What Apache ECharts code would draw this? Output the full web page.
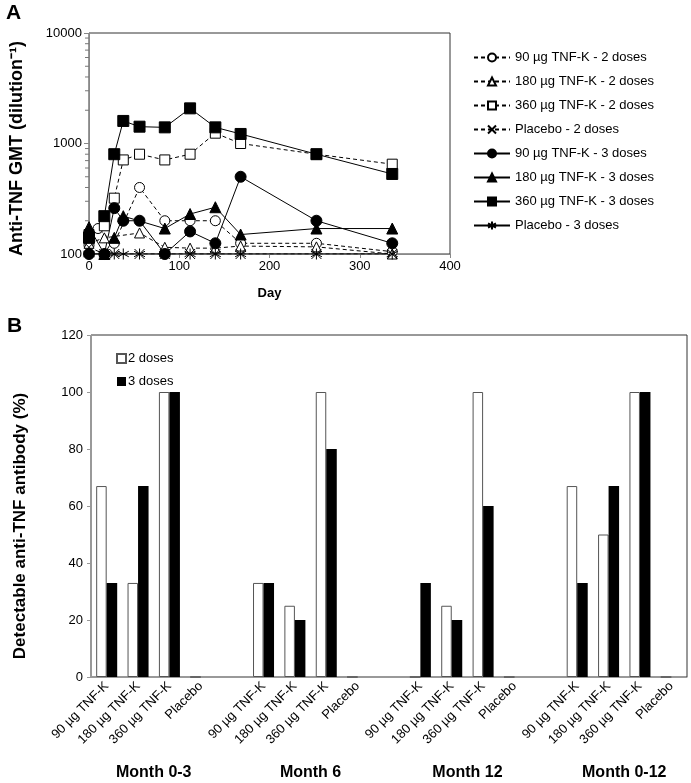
<!DOCTYPE html>
<html>
<head>
<meta charset="utf-8">
<script src="https://cdn.jsdelivr.net/npm/echarts@6/dist/echarts.min.js"></script>
<style>
  html, body { margin: 0; background: #fff; }
  #chart { width: 691px; height: 783px; }
</style>
</head>
<body>
<div id="chart"></div>
<script>
const FONT = '"Liberation Sans", Arial, sans-serif';

// Panel A - anti-TNF GMT by study day (null = no point on that day)
const days = [0, 10, 17, 28, 38, 56, 84, 112, 140, 168, 252, 336];
const gmt90x2 = [120, 170, null, 125, null, 400, 200, 200, 200, 125, 125, 105];
const gmt180x2 = [125, null, 140, null, null, 155, 115, 113, 113, 118, 116, 100];
const gmt360x2 = [150, null, 180, 320, 710, 800, 710, 800, 1240, 1000, 800, 650];
const gmtPlacebo2 = [115, null, 100, 100, null, 100, 100, 100, 100, 100, 100, 100];
const gmt90x3 = [100, null, 100, 260, 200, 200, 100, 160, 125, 500, 200, 125];
const gmt180x3 = [175, null, 100, 140, 220, null, 170, 230, 265, 150, 170, 170];
const gmt360x3 = [140, null, 220, 800, 1600, 1420, 1400, 2080, 1400, 1220, 800, 530];
const gmtPlacebo3 = [100, null, 100, 100, 100, 100, 100, 100, 100, 100, 100, 100];
const logMinorTicks = [200, 300, 400, 500, 600, 700, 800, 900, 2000, 3000, 4000, 5000, 6000, 7000, 8000, 9000];

// Panel B - % with detectable antibody
const groups = ['Month 0-3', 'Month 6', 'Month 12', 'Month 0-12'];
const doseLabels = ['90 µg TNF-K', '180 µg TNF-K', '360 µg TNF-K', 'Placebo'];
const pct2doses = [[67, 33, 100, 0], [33, 25, 100, 0], [0, 25, 100, 0], [67, 50, 100, 0]];
const pct3doses = [[33, 67, 100, 0], [33, 20, 80, 0], [33, 20, 60, 0], [33, 67, 100, 0]];

const SYM = {
  x: 'path://M0,0L10,10M10,0L0,10',
  star: 'path://M5,0L5,10M0.7,2.5L9.3,7.5M0.7,7.5L9.3,2.5'
};

const lineDefs = [
  { name: '90 µg TNF-K - 2 doses', values: gmt90x2, symbol: 'circle', open: true },
  { name: '180 µg TNF-K - 2 doses', values: gmt180x2, symbol: 'triangle', open: true },
  { name: '360 µg TNF-K - 2 doses', values: gmt360x2, symbol: 'rect', open: true },
  { name: 'Placebo - 2 doses', values: gmtPlacebo2, symbol: SYM.x, open: true, stroke: true },
  { name: '90 µg TNF-K - 3 doses', values: gmt90x3, symbol: 'circle' },
  { name: '180 µg TNF-K - 3 doses', values: gmt180x3, symbol: 'triangle' },
  { name: '360 µg TNF-K - 3 doses', values: gmt360x3, symbol: 'rect' },
  { name: 'Placebo - 3 doses', values: gmtPlacebo3, symbol: SYM.star, stroke: true }
];

const lineSeries = lineDefs.map(d => ({
  name: d.name,
  type: 'line',
  xAxisIndex: 0,
  yAxisIndex: 0,
  data: days.map((day, i) => [day, d.values[i]]).filter(p => p[1] != null),
  symbol: d.symbol,
  symbolSize: d.open ? 10 : 11,
  showSymbol: true,
  lineStyle: { color: '#000', width: 1, type: d.open ? [4, 3] : 'solid' },
  itemStyle: d.stroke
    ? { color: 'none', borderColor: '#000', borderWidth: 1 }
    : { color: d.open ? '#fff' : '#000', borderColor: '#000', borderWidth: 1 },
  emphasis: { disabled: true },
  animation: false
}));

// category axis for panel B: blank slot between groups
const barCats = [];
const bar2 = [];
const bar3 = [];
groups.forEach((g, gi) => {
  if (gi > 0) { barCats.push(''); bar2.push('-'); bar3.push('-'); }
  doseLabels.forEach((lab, di) => {
    barCats.push(lab);
    bar2.push(pct2doses[gi][di]);
    bar3.push(pct3doses[gi][di]);
  });
});
const groupCenters = groups.map((g, gi) => gi * (doseLabels.length + 1) + (doseLabels.length - 1) / 2);

const chart = echarts.init(document.getElementById('chart'));
chart.setOption({
  animation: false,
  textStyle: { fontFamily: FONT },
  graphic: [
    { type: 'text', left: 6, top: 3, style: { text: 'A', font: 'bold 21px ' + FONT, fill: '#000' } },
    { type: 'text', left: 7, top: 316, style: { text: 'B', font: 'bold 21px ' + FONT, fill: '#000' } }
  ],
  grid: [
    { left: 87, top: 33, width: 363, height: 221, show: true, borderColor: '#333', borderWidth: 1 },
    { left: 91, top: 335, width: 596, height: 342, show: true, borderColor: '#333', borderWidth: 1 }
  ],
  legend: [
    {
      data: lineDefs.map(d => d.name),
      orient: 'vertical',
      left: 468,
      top: 46,
      itemWidth: 36,
      itemHeight: 10,
      itemGap: 11,
      textStyle: { fontFamily: FONT, fontSize: 13, color: '#000' }
    },
    {
      data: ['2 doses', '3 doses'],
      orient: 'vertical',
      left: 111,
      top: 347,
      icon: 'rect',
      itemWidth: 9,
      itemHeight: 9,
      itemGap: 10,
      textStyle: { fontFamily: FONT, fontSize: 13, color: '#000', padding: [0, 0, 0, -3] }
    }
  ],
  xAxis: [
    {
      gridIndex: 0,
      type: 'value',
      min: 0,
      max: 400,
      interval: 100,
      name: 'Day',
      nameLocation: 'middle',
      nameGap: 33,
      nameTextStyle: { fontFamily: FONT, fontSize: 13, fontWeight: 'bold', color: '#000' },
      axisLine: { onZero: false, lineStyle: { color: '#888', width: 1 } },
      axisTick: { show: true, length: 4, lineStyle: { color: '#888' } },
      axisLabel: { fontSize: 13, color: '#000', margin: 6 },
      splitLine: { show: false }
    },
    {
      gridIndex: 1,
      type: 'category',
      data: barCats,
      axisLine: { onZero: false, lineStyle: { color: '#999', width: 1 } },
      axisTick: { show: false },
      axisLabel: { interval: 0, rotate: 45, fontSize: 13, color: '#000', margin: 7 },
      splitLine: { show: false }
    },
    {
      gridIndex: 1,
      type: 'value',
      min: -0.5,
      max: barCats.length - 0.5,
      position: 'bottom',
      offset: 84,
      axisLine: { show: false, onZero: false },
      axisTick: { show: false },
      splitLine: { show: false },
      axisLabel: {
        customValues: groupCenters,
        formatter: v => groups[groupCenters.indexOf(v)] || '',
        fontSize: 16,
        fontWeight: 'bold',
        color: '#000',
        margin: 4
      }
    }
  ],
  yAxis: [
    {
      gridIndex: 0,
      type: 'log',
      logBase: 10,
      min: 100,
      max: 10000,
      name: 'Anti-TNF GMT (dilution⁻¹)',
      nameLocation: 'middle',
      nameGap: 63,
      nameTextStyle: { fontFamily: FONT, fontSize: 18, fontWeight: 'bold', color: '#000', padding: [0, 10, 0, 0] },
      axisLine: { show: true, onZero: false, lineStyle: { color: '#888', width: 1 } },
      axisTick: { show: true, length: 5, lineStyle: { color: '#888' } },
      axisLabel: { fontSize: 13, color: '#000', margin: 7, formatter: v => String(v) },
      splitLine: { show: false }
    },
    {
      gridIndex: 1,
      type: 'value',
      min: 0,
      max: 120,
      interval: 20,
      name: 'Detectable anti-TNF antibody (%)',
      nameLocation: 'middle',
      nameGap: 62,
      nameTextStyle: { fontFamily: FONT, fontSize: 17, fontWeight: 'bold', color: '#000', padding: [0, 40, 0, 0] },
      axisLine: { show: true, onZero: false, lineStyle: { color: '#999', width: 1 } },
      axisTick: { show: true, length: 4, lineStyle: { color: '#999' } },
      axisLabel: { fontSize: 13, color: '#000', margin: 8 },
      splitLine: { show: false }
    }
  ],
  series: [
    {
      // minor ticks of the log axis at 2..9 x each decade
      type: 'custom',
      xAxisIndex: 0,
      yAxisIndex: 0,
      silent: true,
      clip: false,
      z: 5,
      data: logMinorTicks.map(v => [0, v]),
      renderItem: (params, api) => {
        const p = api.coord([0, api.value(1)]);
        return {
          type: 'line',
          shape: { x1: p[0] - 4, y1: p[1], x2: p[0], y2: p[1] },
          style: { stroke: '#777', lineWidth: 1 }
        };
      }
    },
    ...lineSeries,
    {
      name: '2 doses',
      type: 'bar',
      xAxisIndex: 1,
      yAxisIndex: 1,
      data: bar2,
      barGap: '0%',
      barCategoryGap: '33%',
      itemStyle: { color: '#fff', borderColor: '#555', borderWidth: 1 },
      emphasis: { disabled: true }
    },
    {
      name: '3 doses',
      type: 'bar',
      xAxisIndex: 1,
      yAxisIndex: 1,
      data: bar3,
      barGap: '0%',
      barCategoryGap: '33%',
      itemStyle: { color: '#000', borderColor: '#000', borderWidth: 0 },
      emphasis: { disabled: true }
    }
  ]
});
</script>
</body>
</html>
